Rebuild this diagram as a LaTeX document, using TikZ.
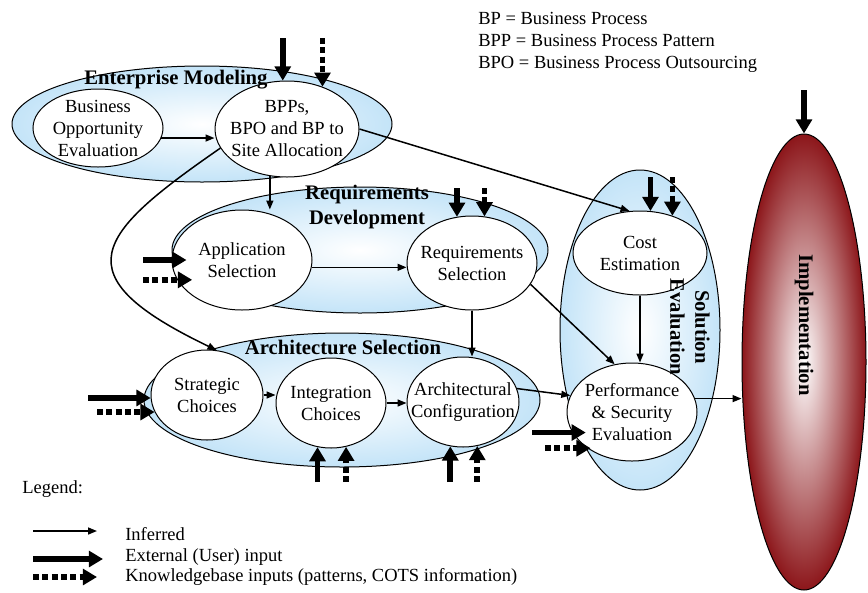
\documentclass[tikz,border=0pt]{standalone}
\usepackage{fontspec}
\setmainfont{Liberation Serif}
\usetikzlibrary{shapes.geometric,arrows.meta}
\definecolor{lblue}{RGB}{196,228,248}
\definecolor{implred}{RGB}{140,22,26}

\begin{document}
\begin{tikzpicture}[x=0.6pt,y=-0.6pt]
        \tikzstyle{every node}=[font=\fontsize{11.1}{13.2}\selectfont, inner sep=0pt];
        \tikzstyle{phase}=[ellipse, draw, line width=0.6pt, inner color=white, outer color=lblue];
        \tikzstyle{proc}=[ellipse, draw, line width=0.6pt, fill=white];
        \tikzstyle{proctext}=[align=center];
        \tikzstyle{phasetitle}=[font=\fontsize{12.4}{15}\selectfont\bfseries, align=center];
        \tikzstyle{inferred}=[line width=0.9pt, -{Triangle[length=5.4pt,width=4.2pt]}];
        \tikzstyle{userin}=[line width=3.4pt, -{Triangle[length=8.5pt,width=9.5pt]}];
        \tikzstyle{kbin}=[userin, dash pattern=on 3.6pt off 2pt];
        \useasboundingbox (0,0) rectangle (868,592);

        % phases
        \node (em) [phase, minimum width=228pt, minimum height=69.6pt] at (202,124) {};
        \node (rd) [phase, minimum width=225.6pt, minimum height=75.6pt] at (360,250) {};
        \node (as) [phase, minimum width=237.6pt, minimum height=80.4pt] at (342,400) {};
        \node (se) [phase, minimum width=96pt, minimum height=192pt] at (640,330) {};
        \node (impl) [phase, outer color=implred, minimum width=74.4pt, minimum height=273.6pt] at (804,362) {};

        % activities
        \node (boe) [proc, minimum width=78pt, minimum height=46.8pt,
          label={[proctext]center:Business\\Opportunity\\Evaluation}] at (98,128) {};
        \node (bpp) [proc, minimum width=86.4pt, minimum height=57.6pt,
          label={[proctext]center:BPPs,\\BPO and BP to\\Site Allocation}] at (287,129) {};
        \node (app) [proc, minimum width=84pt, minimum height=60pt,
          label={[proctext]center:Application\\Selection}] at (242,260) {};
        \node (req) [proc, minimum width=78pt, minimum height=56.4pt,
          label={[proctext]center:Requirements\\Selection}] at (472,263) {};
        \node (strat) [proc, minimum width=67.2pt, minimum height=54pt,
          label={[proctext]center:Strategic\\Choices}] at (207,395) {};
        \node (integ) [proc, minimum width=66pt, minimum height=54pt,
          label={[proctext]center:Integration\\Choices}] at (331,403) {};
        \node (archc) [proc, minimum width=67.2pt, minimum height=54pt,
          label={[proctext]center:Architectural\\Configuration}] at (463,402) {};
        \node (cost) [proc, minimum width=80.4pt, minimum height=50.4pt,
          label={[proctext]center:Cost\\Estimation}] at (640,253) {};
        \node (perf) [proc, minimum width=78pt, minimum height=58.8pt,
          label={[proctext]center:Performance\\\& Security\\Evaluation}] at (632,412) {};

        % inferred flow
        \draw[inferred] (boe.-9) -- (boe.-9 -| bpp.west);
        \draw[inferred] (bpp.-110) -- (bpp.-110 |- app.north);
        \draw[inferred] (bpp.east) -- (cost.104);
        \draw[inferred] (bpp.196) .. controls (95,235) and (60,275) .. (strat.78);
        \draw[inferred] (app.-6) -- (app.-6 -| req.west);
        \draw[inferred] (req.-20) -- (perf.110);
        \draw[inferred] (req.south) -- (req.south |- archc.north);
        \draw[inferred] (strat.east) -- (strat.east -| integ.west);
        \draw[inferred] (integ.east) -- (integ.east -| archc.west);
        \draw[inferred] (archc.14) -- (perf.165);
        \draw[inferred] (cost.south) -- (cost.south |- perf.north);
        \draw[inferred] (perf.12) -- (perf.12 -| impl.west);

        % user and knowledgebase inputs
        \coordinate (bppin) at (0,38);
        \coordinate (reqin) at (0,188);
        \coordinate (costin) at (0,177);
        \coordinate (implin) at (0,90);
        \coordinate (asin) at (0,482);
        \coordinate (appin) at (143,0);
        \coordinate (stratin) at (88,0);
        \coordinate (stratkb) at (97,0);
        \coordinate (perfin) at (532,0);
        \coordinate (perfkb) at (545,0);
        \foreach \n/\a/\b/\c in {bpp/95/50/bppin, req/108/75/reqin, cost/76/49/costin,
                                 integ/-107/-71/asin, archc/-106/-72/asin}{
          \draw[userin] (\n.\a |- \c) -- (\n.\a);
          \draw[kbin] (\n.\b |- \c) -- (\n.\b);
        }
        \draw[userin] (impl.north |- implin) -- (impl.north);
        \draw[userin, shorten >=-9pt] (appin |- app.180) -- (app.180);
        \draw[kbin, shorten >=-9pt] (appin |- app.197) -- (app.197);
        \draw[userin] (stratin |- strat.183) -- (strat.183);
        \draw[kbin] (stratkb |- strat.198) -- (strat.198);
        \draw[userin, shorten >=-8pt] (perfin |- perf.199) -- (perf.199);
        \draw[kbin, shorten >=-2pt] (perfkb |- perf.219) -- (perf.219);

        % phase titles
        \node (emtitle) [phasetitle] at (176,80) {Enterprise Modeling};
        \node (rdtitle) [phasetitle] at (367,207) {Requirements\\Development};
        \node (astitle) [phasetitle] at (343,347) {Architecture Selection};
        \node (setitle) [phasetitle, rotate=-90] at (690,327) {Solution\\Evaluation};
        \node (impltitle) [phasetitle, rotate=-90] at (804,325) {Implementation};

        % abbreviations
        \node (abbrev) [anchor=west, align=left] at (478,42)
          {BP = Business Process\\BPP = Business Process Pattern\\BPO = Business Process Outsourcing};

        % legend
        \node (legend) [anchor=west] at (22,489) {Legend:};
        \coordinate (leg1) at (33,531);
        \coordinate (leg2) at (33,559);
        \coordinate (leg3) at (33,577);
        \draw[inferred] (leg1) -- ++(64,0);
        \draw[userin] (leg2) -- ++(70,0);
        \draw[kbin] (leg3) -- ++(64,0);
        \node (leginferred) [anchor=west] at (125,534) {Inferred};
        \node (leguser) [anchor=west] at (125,557) {External (User) input};
        \node (legkb) [anchor=west] at (125,577) {Knowledgebase inputs (patterns, COTS information)};
      \end{tikzpicture}
\end{document}
